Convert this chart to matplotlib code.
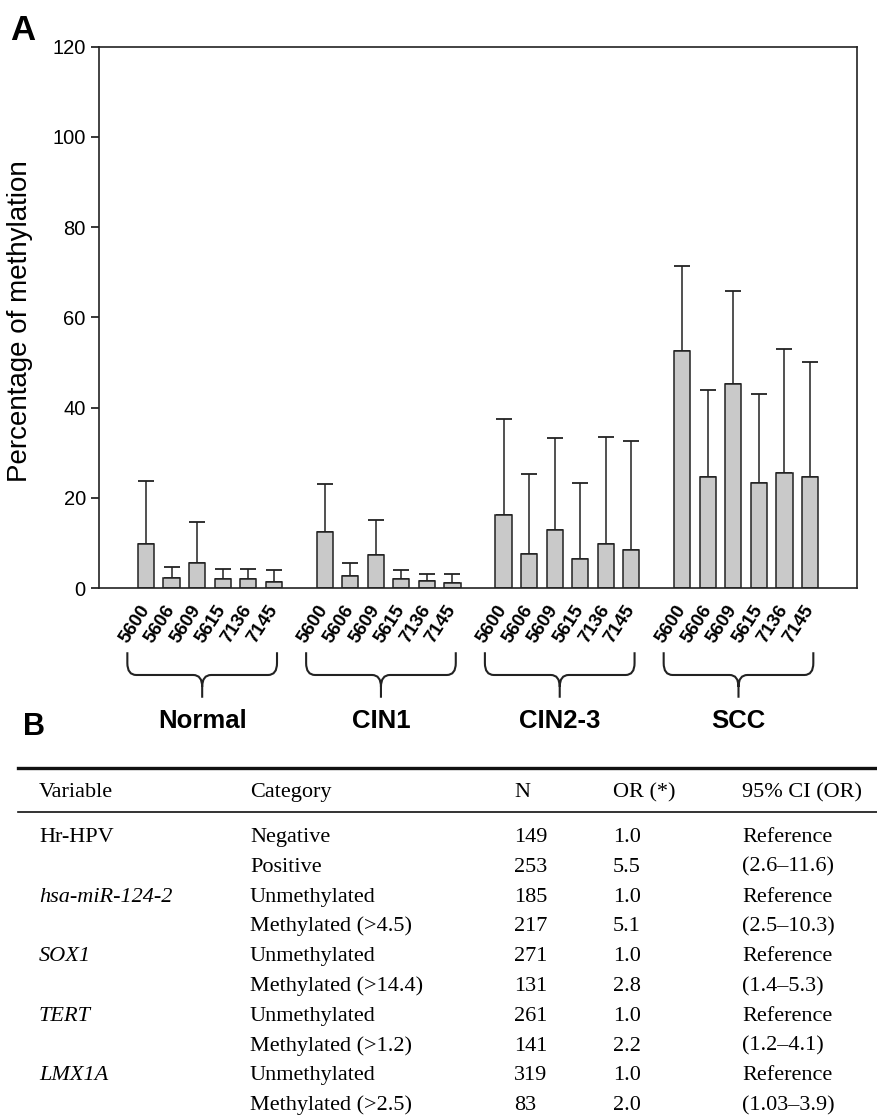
import numpy as np
import matplotlib.pyplot as plt
import matplotlib.transforms as mtransforms
from matplotlib.path import Path
from matplotlib.patches import PathPatch
from matplotlib.lines import Line2D

plt.rcParams['font.family'] = ['Liberation Sans', 'DejaVu Sans']

# panel A data (mean and upper SD)
groups = ["Normal", "CIN1", "CIN2-3", "SCC"]
markers = ["5600", "5606", "5609", "5615", "7136", "7145"]

normal_mean = [9.9, 2.2, 5.7, 2.1, 2.0, 1.3]
normal_sd = [13.8, 2.6, 9.0, 2.2, 2.3, 2.7]
cin1_mean = [12.4, 2.8, 7.4, 2.1, 1.6, 1.2]
cin1_sd = [10.6, 2.7, 7.7, 1.9, 1.6, 1.9]
cin23_mean = [16.2, 7.5, 12.9, 6.5, 9.9, 8.5]
cin23_sd = [21.4, 17.9, 20.4, 16.9, 23.6, 24.1]
scc_mean = [52.5, 24.7, 45.3, 23.3, 25.6, 24.7]
scc_sd = [18.9, 19.3, 20.6, 19.7, 27.3, 25.4]

means = [normal_mean, cin1_mean, cin23_mean, scc_mean]
sds = [normal_sd, cin1_sd, cin23_sd, scc_sd]

# panel B table
variables = ["Hr-HPV", "", "hsa-miR-124-2", "", "SOX1", "", "TERT", "", "LMX1A", ""]
var_italic = [False, False, True, False, True, False, True, False, True, False]
categories = ["Negative", "Positive", "Unmethylated", "Methylated (>4.5)",
              "Unmethylated", "Methylated (>14.4)", "Unmethylated", "Methylated (>1.2)",
              "Unmethylated", "Methylated (>2.5)"]
n_values = [149, 253, 185, 217, 271, 131, 261, 141, 319, 83]
or_values = ["1.0", "5.5", "1.0", "5.1", "1.0", "2.8", "1.0", "2.2", "1.0", "2.0"]
ci_values = ["Reference", "(2.6–11.6)", "Reference", "(2.5–10.3)", "Reference",
             "(1.4–5.3)", "Reference", "(1.2–4.1)", "Reference", "(1.03–3.9)"]
headers = ["Variable", "Category", "N", "OR (*)", "95% CI (OR)"]

W, H = 877, 1115
fig = plt.figure(figsize=(W / 100, H / 100), dpi=100)
ax = fig.add_axes([99 / W, 1 - 588.3 / H, 758 / W, 541.8 / H])

gap = 7
xpos, heights, errs, labels = [], [], [], []
for g in range(len(groups)):
    for i in range(len(markers)):
        xpos.append(g * gap + i)
        heights.append(means[g][i])
        errs.append(sds[g][i])
        labels.append(markers[i])

ax.bar(xpos, heights, width=0.63, color="#c9c9c9", edgecolor="#222222",
       linewidth=1.1, zorder=2)
ax.errorbar(xpos, heights, yerr=[np.zeros(len(errs)), errs], fmt="none",
            ecolor="#222222", elinewidth=1.1, capsize=6, capthick=1.3, zorder=1)

ax.set_xlim(-1.84, 27.84)
ax.set_ylim(0, 120)
ax.set_yticks(range(0, 121, 20))
ax.tick_params(axis="y", direction="out", length=5.5, width=1.1, labelsize=14.5, pad=4)
ax.set_xticks(xpos)
ax.set_xticklabels(labels, rotation=57, ha="right", va="center",
                   rotation_mode="anchor", fontweight="bold", fontsize=13.5)
ax.tick_params(axis="x", length=0, pad=13)
for s in ax.spines.values():
    s.set_linewidth(1.2)
    s.set_color("#222222")

ax.set_ylabel("Percentage of methylation", fontsize=20)
ax.yaxis.set_label_coords(-0.087, 0.493)

# braces below groups
trans = mtransforms.blended_transform_factory(ax.transData, ax.transAxes)
ytop, ymid, ybot = -0.118, -0.160, -0.202
rx, ry = 0.35, 0.022
for g, name in enumerate(groups):
    xm = g * gap + 2.5 - 0.3
    x0, x1 = xm - 2.93, xm + 2.93
    verts = [(x0, ytop), (x0, ymid + ry), (x0, ymid), (x0 + rx, ymid),
             (xm - rx, ymid), (xm, ymid), (xm, ymid - ry), (xm, ybot),
             (x1, ytop), (x1, ymid + ry), (x1, ymid), (x1 - rx, ymid),
             (xm + rx, ymid), (xm, ymid), (xm, ymid - ry)]
    codes = [Path.MOVETO, Path.LINETO, Path.CURVE3, Path.CURVE3,
             Path.LINETO, Path.CURVE3, Path.CURVE3, Path.LINETO,
             Path.MOVETO, Path.LINETO, Path.CURVE3, Path.CURVE3,
             Path.LINETO, Path.CURVE3, Path.CURVE3]
    ax.add_patch(PathPatch(Path(verts, codes), transform=trans, fill=False,
                           lw=1.5, edgecolor="#222222", clip_on=False))
    ax.text(xm, (588.3 - 728) / 541.8, name, transform=trans, ha="center",
            va="baseline", fontsize=18.5, fontweight="bold")

fig.text(10 / W, 1 - 40 / H, "A", fontsize=25, fontweight="bold", va="baseline")
fig.text(23 / W, 1 - 735 / H, "B", fontsize=22, fontweight="bold", va="baseline")

# table
def fy(px):
    return 1 - px / H

fig.add_artist(Line2D([18 / W, 1], [fy(768), fy(768)], lw=2.4, color="#111111"))
fig.add_artist(Line2D([18 / W, 1], [fy(812), fy(812)], lw=1.2, color="#111111"))

col_x = [39, 250, 514, 613, 742]
tfont = dict(family=["Liberation Serif", "DejaVu Serif"], fontsize=16, va="baseline")
for cx, h in zip(col_x, headers):
    fig.text(cx / W, fy(797), h, **tfont)

for r in range(len(categories)):
    yb = fy(842 + 29.8 * r)
    fig.text(col_x[0] / W, yb, variables[r],
             style="italic" if var_italic[r] else "normal", **tfont)
    fig.text(col_x[1] / W, yb, categories[r], **tfont)
    fig.text(col_x[2] / W, yb, str(n_values[r]), **tfont)
    fig.text(col_x[3] / W, yb, or_values[r], **tfont)
    fig.text(col_x[4] / W, yb, ci_values[r], **tfont)

fig.savefig("out.png", dpi=100)
